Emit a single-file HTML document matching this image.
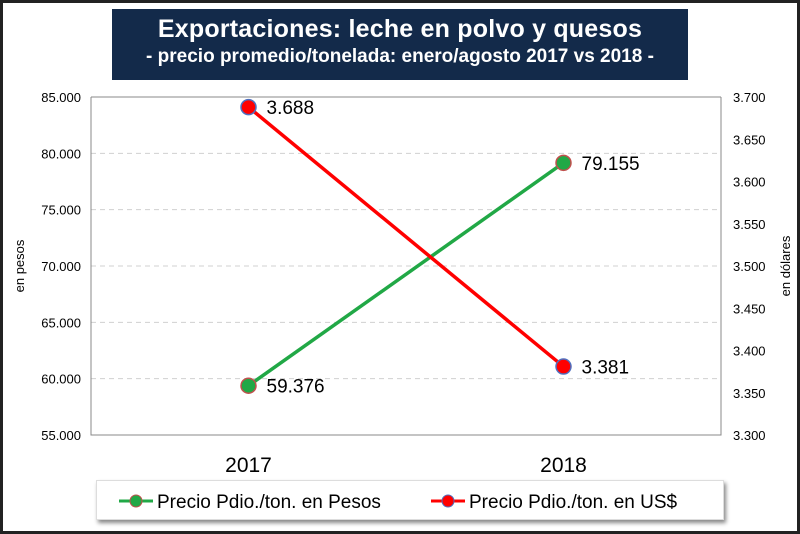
<!DOCTYPE html>
<html><head><meta charset="utf-8"><style>
body{margin:0;width:800px;height:534px;overflow:hidden;background:#fff;font-family:"Liberation Sans",sans-serif}
#wrap{position:absolute;left:0;top:0;width:794px;height:528px;border:3px solid #222;background:#fff}
#title{position:absolute;left:112px;top:9px;width:576px;height:71px;background:#132a4a;color:#fff;text-align:center;font-weight:bold}
#legend{position:absolute;left:96px;top:480px;width:626px;height:38px;background:#fff;box-shadow:2px 3px 4px #888;border:1px solid #ddd}
</style></head><body>
<div id="wrap"></div>
<div id="title">
<div style="font-size:25px;margin-top:6px;letter-spacing:0.2px">Exportaciones: leche en polvo y quesos</div>
<div style="font-size:19px;margin-top:2px">- precio promedio/tonelada: enero/agosto 2017 vs 2018 -</div>
</div>
<svg id="chart" width="800" height="534" style="position:absolute;left:0;top:0"></svg>
<div id="legend">
<svg width="626" height="38">
<g><line x1="22" y1="20" x2="56" y2="20" stroke="#21a846" stroke-width="3"/><circle cx="39" cy="20" r="6" fill="#21a846" stroke="#c0504d"/><text x="60" y="27" font-size="19" font-family="Liberation Sans" fill="#000">Precio Pdio./ton. en Pesos</text></g>
<g><line x1="334" y1="20" x2="368" y2="20" stroke="#ff0000" stroke-width="3"/><circle cx="351" cy="20" r="6" fill="#ff0000" stroke="#4f6fbf"/><text x="372" y="27" font-size="19" font-family="Liberation Sans" fill="#000">Precio Pdio./ton. en US$</text></g>
</svg></div>
<script>
const categories=["2017","2018"];
const pesos=[59376,79155];
const usd=[3688,3381];
const pesosLabels=["59.376","79.155"];
const usdLabels=["3.688","3.381"];
const leftTicks=[55000,60000,65000,70000,75000,80000,85000];
const rightTicks=[3300,3350,3400,3450,3500,3550,3600,3650,3700];
const NS="http://www.w3.org/2000/svg";
const svg=document.getElementById('chart');
const L=91,R=721,T=97,B=435;
const yL=v=>B-(v-55000)/30000*(B-T);
const yR=v=>B-(v-3300)/400*(B-T);
const x=i=>L+(i+0.5)*(R-L)/categories.length;
const fmt=v=>{let s=String(v);return s.length>3?s.slice(0,s.length-3)+"."+s.slice(-3):s};
function el(t,a,p){const e=document.createElementNS(NS,t);for(const k in a)e.setAttribute(k,a[k]);(p||svg).appendChild(e);return e}
function tx(s,a){const e=el('text',Object.assign({'font-family':'Liberation Sans','fill':'#000'},a));e.textContent=s;return e}
leftTicks.forEach(v=>{const y=yL(v);
if(v>55000&&v<85000){const g=el('line',{x1:L,x2:R,y1:y,y2:y,stroke:'#d0d0d0','stroke-dasharray':'5,4'});

}
const t=tx(fmt(v),{x:L-10,y:y+5,'text-anchor':'end','font-size':13});

});
rightTicks.forEach(v=>{const y=yR(v);
const t=tx((v/1000).toFixed(3).replace('.','.'),{x:R+12,y:y+5,'font-size':13});

});
const ax=el('polyline',{points:`${L},${T} ${L},${B} ${R},${B} ${R},${T}`,fill:'none',stroke:'#888'});


el('line',{x1:L,x2:R,y1:T,y2:T,stroke:'#888'});
categories.forEach((c,i)=>{const t=tx(c,{x:x(i),y:472,'text-anchor':'middle','font-size':21});

});
let t1=tx('en pesos',{transform:'translate(24,266) rotate(-90)','text-anchor':'middle','font-size':13});


let t2=tx('en dólares',{transform:'translate(790,266) rotate(-90)','text-anchor':'middle','font-size':13});


function series(vals,yf,col,stroke,labels,name){
const ln=el('polyline',{points:vals.map((v,i)=>x(i)+','+yf(v)).join(' '),fill:'none',stroke:col,'stroke-width':3.5});


vals.forEach((v,i)=>{const c=el('circle',{cx:x(i),cy:yf(v),r:7.5,fill:col,stroke:stroke,'stroke-width':1.5});


const t=tx(labels[i],{x:x(i)+18,y:yf(v)+7,'font-size':19});

});}
series(pesos,yL,'#21a846','#c0504d',pesosLabels,'pesos');
series(usd,yR,'#ff0000','#4f6fbf',usdLabels,'usd');
</script>
</body></html>
